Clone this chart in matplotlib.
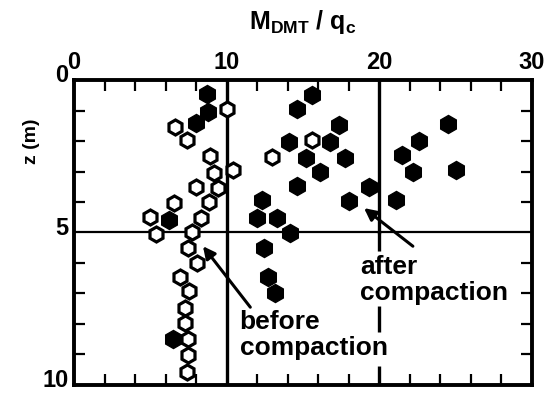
import matplotlib
matplotlib.use("Agg")
import matplotlib.pyplot as plt
from matplotlib.transforms import ScaledTranslation

plt.rcParams["font.family"] = ["Liberation Sans", "DejaVu Sans"]
plt.rcParams["font.weight"] = "bold"
plt.rcParams["mathtext.fontset"] = "custom"
plt.rcParams["mathtext.rm"] = "Liberation Sans:bold"
plt.rcParams["mathtext.it"] = "Liberation Sans:bold"
plt.rcParams["lines.scale_dashes"] = False

# after compaction (filled)
after_x = [8.7, 8.8, 8.0, 6.2, 6.5,
           15.6, 14.6, 17.35, 14.1, 16.8, 15.2, 17.75,
           16.1, 14.6, 19.35, 18.0, 12.3, 12.0, 13.3, 14.15, 12.45, 12.7, 13.15,
           24.5, 22.6, 21.5, 22.2, 25.05, 21.1]
after_z = [0.46, 1.04, 1.4, 4.6, 8.5,
           0.49, 0.96, 1.48, 2.02, 2.02, 2.57, 2.57,
           3.0, 3.48, 3.52, 3.96, 3.93, 4.53, 4.53, 5.03, 5.52, 6.45, 7.0,
           1.44, 1.99, 2.46, 3.0, 2.95, 3.93]

# before compaction (open)
before_x = [10.05, 6.6, 7.4, 8.9, 9.2, 10.4, 8.0, 9.45, 8.85, 6.55, 5.0, 8.35,
            5.35, 7.7, 7.5, 8.05, 6.95, 7.55, 7.3, 7.3, 7.5, 7.5, 7.4,
            15.6, 13.0]
before_z = [0.96, 1.55, 1.97, 2.5, 3.04, 2.95, 3.52, 3.55, 3.99, 4.02, 4.5, 4.53,
            5.05, 4.97, 5.52, 5.99, 6.47, 6.91, 7.49, 7.98, 8.5, 9.02, 9.56,
            1.97, 2.51]

fig = plt.figure(figsize=(5.46, 3.93), dpi=100)
ax = fig.add_axes([0.1355, 0.0204, 0.8388, 0.776])

ax.axvline(10, color="black", lw=2.4, zorder=1)
ax.plot([20, 20], [0, 5], color="black", lw=2.4, zorder=1)
# below z = 5 the line is broken where the labels sit
ax.plot([20, 20], [5, 10], color="black", lw=2.4, zorder=1,
        ls=(0, (13.7, 39.6, 18.7, 24.5, 25, 10)))
ax.axhline(5, color="black", lw=1.6, zorder=1)

ax.plot(after_x, after_z, "h", color="black", ms=13, zorder=3)
ax.plot(before_x, before_z, "h", mfc="white", mec="black", mew=2.3, ms=10.8, zorder=3)

ax.set_xlim(0, 30)
ax.set_ylim(10, 0)
ax.set_xticks([0, 10, 20, 30])
ax.set_xticks(range(0, 31, 2), minor=True)
ax.set_yticks([0, 5, 10])
ax.set_yticks(range(0, 11), minor=True)
ax.tick_params(which="both", direction="in", top=True, bottom=True, left=True,
               right=True, labeltop=True, labelbottom=False, width=1.6)
ax.tick_params(which="major", length=0, labelsize=17, pad=4)
ax.tick_params(which="minor", length=8)
for s in ax.spines.values():
    s.set_linewidth(2.8)
for lab in ax.get_xticklabels() + ax.get_yticklabels():
    lab.set_fontweight("bold")
shift = ScaledTranslation(0, 5 / 72, fig.dpi_scale_trans)
for lab in ax.get_yticklabels():
    lab.set_transform(lab.get_transform() + shift)

ax.set_ylabel("z (m)", fontsize=14, fontweight="bold")
ax.yaxis.set_label_coords(-0.075, 0.8)

fig.text(0.555, 0.945, r"M$_{\rm DMT}$ / q$_{\rm c}$", fontsize=18, ha="center", va="center")

labels = [("before", 10.85, 7.93), ("compaction", 10.85, 8.8),
          ("after", 18.75, 6.13), ("compaction", 18.75, 6.98)]
for txt, x, z in labels:
    ax.text(x, z, txt, fontsize=19, fontweight="bold", ha="left", va="center", zorder=4)

arrow = dict(arrowstyle="-|>", color="black", lw=2.2, mutation_scale=18,
             shrinkA=0, shrinkB=0)
ax.annotate("", xy=(8.45, 5.45), xytext=(11.55, 7.45), arrowprops=arrow, zorder=5)
ax.annotate("", xy=(19.0, 4.2), xytext=(22.2, 5.45), arrowprops=arrow, zorder=5)

fig.savefig("out.png", dpi=100)
